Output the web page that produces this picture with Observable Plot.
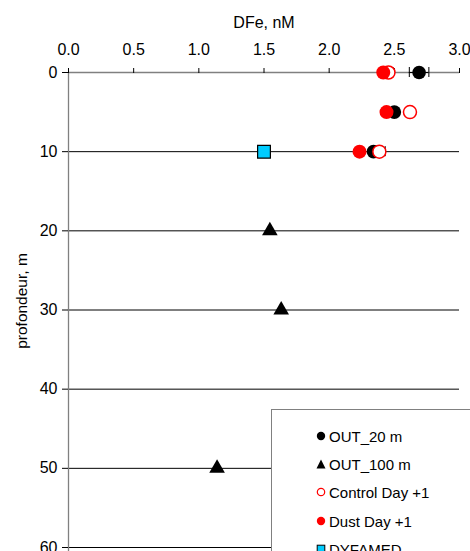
<!DOCTYPE html>
<html>
<head>
<meta charset="utf-8">
<script src="https://cdn.jsdelivr.net/npm/d3@7"></script>
<script src="https://cdn.jsdelivr.net/npm/@observablehq/plot@0.6"></script>
<style>
  html, body { margin: 0; padding: 0; background: #fff; }
  #wrap { position: relative; width: 470px; height: 551px; overflow: hidden; font-family: "Liberation Sans", Arial, sans-serif; }
  #legend { position: absolute; left: 271px; top: 409px; width: 220px; height: 170px; background: #fff; border: 1px solid #808080; box-sizing: border-box; }
  .item { position: absolute; left: 43px; height: 20px; display: flex; align-items: center; font-size: 15px; color: #000; }
  .item svg { margin-right: 2px; }
</style>
</head>
<body>
<div id="wrap"></div>
<script>
// Depths (m)
const out20Depth = [0, 5, 10];
const out20Fe = [2.69, 2.50, 2.34];
const out20Err = [0.075, 0, 0];

const out100Depth = [20, 30, 50];
const out100Fe = [1.545, 1.632, 1.14];

const controlDepth = [0, 5, 10];
const controlFe = [2.455, 2.62, 2.385];
const controlErr = [0.035, 0, 0.045];

const dustDepth = [0, 5, 10];
const dustFe = [2.415, 2.44, 2.233];

const dyfamedDepth = [10];
const dyfamedFe = [1.50];

const xTicks = [0, 0.5, 1.0, 1.5, 2.0, 2.5, 3.0];
const yTicks = [0, 10, 20, 30, 40, 50, 60];
const gridDepths = [10, 20, 30, 40, 50, 60];

const legendItems = ["OUT_20 m", "OUT_100 m", "Control Day +1", "Dust Day +1", "DYFAMED"];

const rows = (d, v, e) => d.map((depth, i) => ({depth, fe: v[i], err: e ? e[i] : 0}));
const out20 = rows(out20Depth, out20Fe, out20Err);
const out100 = rows(out100Depth, out100Fe);
const control = rows(controlDepth, controlFe, controlErr);
const dust = rows(dustDepth, dustFe);
const dyfamed = rows(dyfamedDepth, dyfamedFe);
const errs = [...out20, ...control].filter(d => d.err > 0).map(d => ({depth: d.depth, lo: d.fe - d.err, hi: d.fe + d.err}));

const font = '"Liberation Sans", Arial, sans-serif';

const chart = Plot.plot({
  width: 470,
  height: 551,
  marginLeft: 68,
  marginRight: 11,
  marginTop: 72,
  marginBottom: 4,
  style: {fontFamily: font, fontSize: "16px", color: "#000", background: "#fff"},
  x: {domain: [0, 3], axis: null},
  y: {domain: [0, 60], reverse: true, axis: null},
  marks: [
    Plot.ruleY(gridDepths, {stroke: "#000", strokeWidth: 1}),
    Plot.ruleX([0], {stroke: "#808080", strokeWidth: 1.3, insetBottom: -6}),
    Plot.ruleY([0], {stroke: "#808080", strokeWidth: 1.3}),
    Plot.axisX({anchor: "top", ticks: xTicks, tickFormat: d3.format(".1f"), tickSize: 5, tickPadding: 13, stroke: "#000", fontSize: 16, label: null}),
    Plot.axisY({anchor: "left", ticks: yTicks, tickFormat: d3.format("d"), tickSize: 6, tickPadding: 5, stroke: "#000", fontSize: 16, label: null}),
    Plot.text(["DFe, nM"], {frameAnchor: "top", dy: -56, fontSize: 16, fill: "#000"}),
    Plot.text(["profondeur, m"], {frameAnchor: "left", dx: -46, dy: -9, rotate: -90, textAnchor: "middle", fontSize: 15.5, fill: "#000"}),
    // error bars
    Plot.ruleY(errs, {y: "depth", x1: "lo", x2: "hi", stroke: "#000", strokeWidth: 1}),
    Plot.ruleX(errs, {x: "lo", y1: "depth", y2: "depth", insetTop: -5, insetBottom: -5, stroke: "#000", strokeWidth: 1}),
    Plot.ruleX(errs, {x: "hi", y1: "depth", y2: "depth", insetTop: -5, insetBottom: -5, stroke: "#000", strokeWidth: 1}),
    // series
    Plot.dot(out20, {x: "fe", y: "depth", r: 6.8, fill: "#000", stroke: "none"}),
    Plot.dot(control, {x: "fe", y: "depth", r: 6.5, fill: "#fff", stroke: "#ff0000", strokeWidth: 1.5}),
    Plot.dot(dust, {x: "fe", y: "depth", r: 7.0, fill: "#ff0000", stroke: "none"}),
    Plot.dot(out100, {x: "fe", y: "depth", symbol: "triangle", r: 5.8, fill: "#000", stroke: "none"}),
    Plot.dot(dyfamed, {x: "fe", y: "depth", symbol: "square", r: 7.2, fill: "#00ccff", stroke: "#000", strokeWidth: 1.2})
  ]
});

const wrap = document.getElementById("wrap");
wrap.appendChild(chart);

// legend overlay
const symbols = [
  '<circle cx="6" cy="6" r="4.2" fill="#000"/>',
  '<path d="M6 1.5 L10.5 10.5 L1.5 10.5 Z" fill="#000"/>',
  '<circle cx="6" cy="6" r="3.7" fill="#fff" stroke="#ff0000" stroke-width="1.2"/>',
  '<circle cx="6" cy="6" r="4.2" fill="#ff0000"/>',
  '<rect x="2.2" y="2.2" width="7.6" height="7.6" fill="#00ccff" stroke="#000" stroke-width="1"/>'
];
const legend = document.createElement("div");
legend.id = "legend";
const rowTops = [16, 44, 72, 101, 129];
legendItems.forEach((label, i) => {
  const it = document.createElement("div");
  it.className = "item";
  it.style.top = rowTops[i] + "px";
  it.innerHTML = `<svg width="12" height="12" viewBox="0 0 12 12">${symbols[i]}</svg><span>${label}</span>`;
  legend.appendChild(it);
});
wrap.appendChild(legend);
</script>
</body>
</html>
